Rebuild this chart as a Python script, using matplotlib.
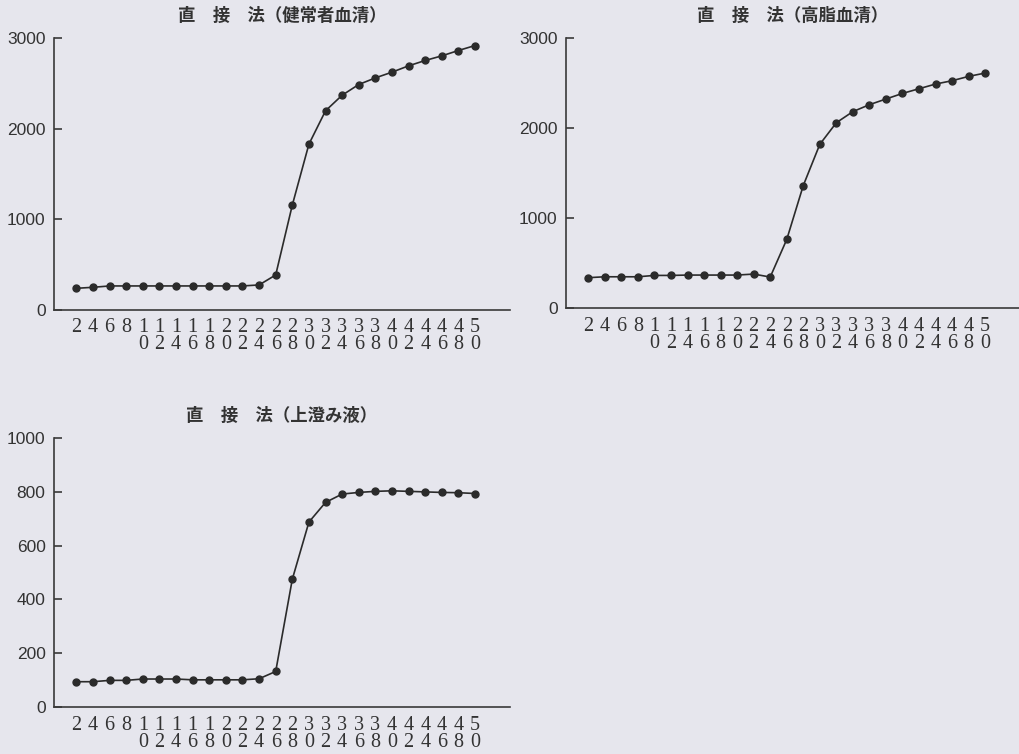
import matplotlib
matplotlib.use("Agg")
import matplotlib.pyplot as plt

plt.rcParams['font.family'] = ['Noto Sans CJK JP', 'DejaVu Sans']

# x axis: time points 2..50
x_vals = list(range(2, 51, 2))
x_labels = ['\n'.join(str(v)) for v in x_vals]

# 直接法（健常者血清）
healthy = [239, 250, 265, 265, 265, 265, 265, 265, 265, 265, 265, 276, 386,
           1157, 1829, 2197, 2369, 2487, 2560, 2623, 2693, 2752, 2803, 2862, 2917]
# 直接法（高脂血清）
lipemic = [340, 350, 350, 350, 365, 365, 369, 369, 369, 369, 380, 347, 764,
           1363, 1820, 2060, 2183, 2260, 2323, 2385, 2437, 2489, 2526, 2574, 2611]
# 直接法（上澄み液）
supernatant = [95, 95, 100, 100, 105, 105, 105, 102, 102, 102, 102, 106, 133,
               475, 687, 760, 791, 797, 801, 803, 801, 799, 797, 796, 793]

titles = ['直　接　法（健常者血清）', '直　接　法（高脂血清）', '直　接　法（上澄み液）']
y_ticks = [[0, 1000, 2000, 3000], [0, 1000, 2000, 3000], [0, 200, 400, 600, 800, 1000]]
y_lims = [(0, 3000), (0, 3000), (0, 1000)]
series = [healthy, lipemic, supernatant]

bg = '#e6e6ed'
ink = '#2b2b2b'

fig = plt.figure(figsize=(10.2, 7.54), dpi=100, facecolor=bg)
positions = [
    [0.0529, 0.5889, 0.447, 0.3607],
    [0.5549, 0.5911, 0.445, 0.3585],
    [0.0529, 0.0619, 0.447, 0.3576],
]

for pos, data, title, yt, yl in zip(positions, series, titles, y_ticks, y_lims):
    ax = fig.add_axes(pos)
    ax.set_facecolor(bg)
    ax.plot(x_vals, data, color=ink, linewidth=1.2, marker='o',
            markersize=5, markerfacecolor=ink, markeredgecolor=ink)
    ax.set_xlim(-0.7, 54.2)
    ax.set_ylim(*yl)
    ax.spines['top'].set_visible(False)
    ax.spines['right'].set_visible(False)
    for s in ('left', 'bottom'):
        ax.spines[s].set_color('#3a3a3a')
        ax.spines[s].set_linewidth(1.2)
    ax.set_yticks(yt)
    ax.set_yticklabels([str(v) for v in yt], family='Liberation Sans',
                       fontsize=12.5, color='#333333')
    ax.tick_params(axis='y', direction='in', length=6, width=1.2,
                   color='#3a3a3a', pad=6)
    ax.set_xticks(x_vals)
    ax.set_xticklabels(x_labels, family='Liberation Serif', fontsize=14.5,
                       color='#333333', linespacing=0.85)
    ax.tick_params(axis='x', length=0, pad=6)
    ax.set_title(title, fontsize=12.5, fontweight='bold', color='#333333', pad=12)

fig.savefig('out.png', dpi=100, facecolor=bg)
